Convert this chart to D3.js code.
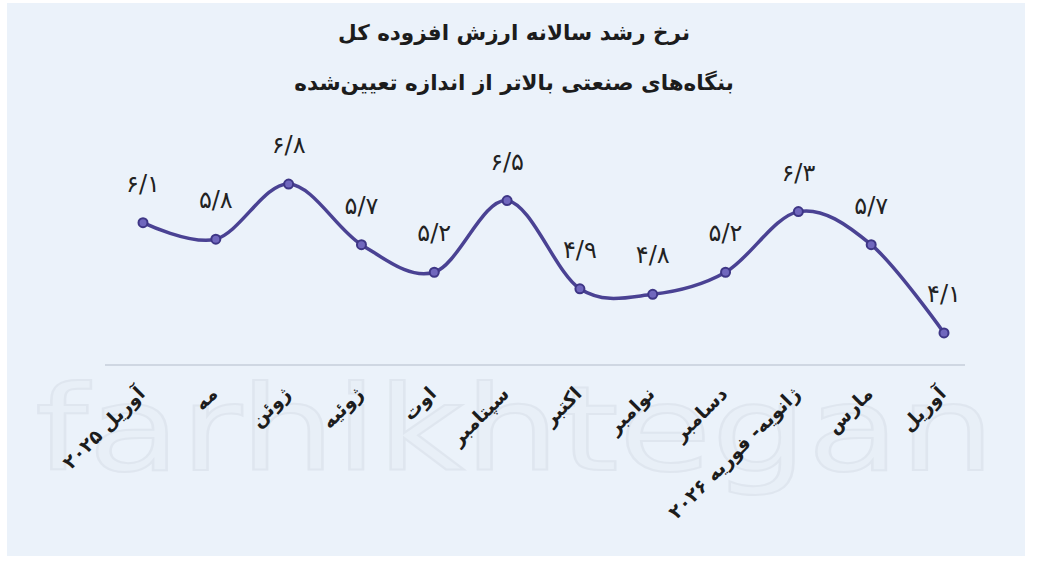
<!DOCTYPE html>
<html><head><meta charset="utf-8">
<script src="https://cdn.jsdelivr.net/npm/d3@7/dist/d3.min.js"></script>
<style>html,body{margin:0;padding:0;background:#fff;}svg{display:block;}</style>
</head><body>
<svg id="c" width="1037" height="577"></svg>
<script>
const titleLines = ["نرخ رشد سالانه ارزش افزوده کل", "بنگاه‌های صنعتی بالاتر از اندازه تعیین‌شده"];
const categories = ["آوریل ۲۰۲۵","مه","ژوئن","ژوئیه","اوت","سپتامبر","اکتبر","نوامبر","دسامبر","ژانویه- فوریه ۲۰۲۶","مارس","آوریل"];
const values = [6.1,5.8,6.8,5.7,5.2,6.5,4.9,4.8,5.2,6.3,5.7,4.1];
const valueLabels = ["۶/۱","۵/۸","۶/۸","۵/۷","۵/۲","۶/۵","۴/۹","۴/۸","۵/۲","۶/۳","۵/۷","۴/۱"];

const svg = d3.select("#c");
const font = "'DejaVu Sans', sans-serif";

svg.append("rect").attr("x",7).attr("y",3).attr("width",1018).attr("height",553).attr("fill","#ebf2fa");

// faint watermark
svg.append("text").attr("x",35).attr("y",470)
  .attr("textLength",960).attr("lengthAdjust","spacingAndGlyphs")
  .attr("font-family","'DejaVu Sans', sans-serif").attr("font-size",118)
  .attr("fill","#e8eff7").attr("stroke","#dfe6ef").attr("stroke-width",2)
  .text("farhikhtegan");

const x = d3.scalePoint().domain(d3.range(categories.length)).range([143,944]);
const y = d3.scaleLinear().domain([3.5,7]).range([366,173]);

// axis line
svg.append("line").attr("x1",105).attr("x2",965).attr("y1",365).attr("y2",365)
  .attr("stroke","#cfd7e2").attr("stroke-width",2);

// titles
svg.selectAll(".title").data(titleLines).join("text")
  .attr("x",514).attr("y",(d,i)=>40+i*50).attr("text-anchor","middle")
  .attr("font-family",font).attr("font-weight","bold").attr("font-size",21.5)
  .attr("fill","#1c1c1c").text(d=>d);

const line = d3.line().x((d,i)=>x(i)).y(d=>y(d)).curve(d3.curveCardinal.tension(0));
svg.append("path").datum(values).attr("d",line).attr("fill","none")
  .attr("stroke","#4a4293").attr("stroke-width",3.5);

svg.selectAll(".pt").data(values).join("circle")
  .attr("cx",(d,i)=>x(i)).attr("cy",d=>y(d)).attr("r",4.5)
  .attr("fill","#7067bd").attr("stroke","#3e3686").attr("stroke-width",2);

svg.selectAll(".vl").data(values).join("text")
  .attr("x",(d,i)=>x(i)).attr("y",d=>y(d)-31).attr("text-anchor","middle")
  .attr("font-family",font).attr("font-size",24).attr("fill","#222")
  .text((d,i)=>valueLabels[i]);

svg.selectAll(".xl").data(categories).join("text")
  .attr("transform",(d,i)=>`translate(${x(i)+3},${395}) rotate(-45)`)
  .attr("text-anchor","end").attr("font-family",font).attr("font-weight","bold")
  .attr("font-size",19).attr("fill","#1c1c1c").text(d=>d);
</script>
</body></html>
